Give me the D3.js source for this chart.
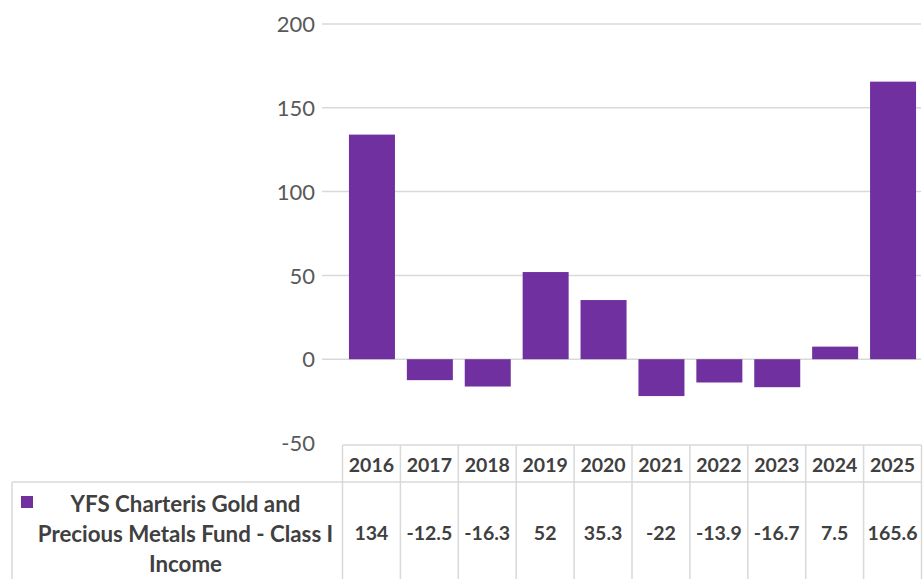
<!DOCTYPE html>
<html><head><meta charset="utf-8">
<script src="https://cdn.jsdelivr.net/npm/d3@7"></script>
<style>body{margin:0;background:#fff}svg{display:block}</style>
</head><body>
<script>
const years = ["2016","2017","2018","2019","2020","2021","2022","2023","2024","2025"];
const values = [134, -12.5, -16.3, 52, 35.3, -22, -13.9, -16.7, 7.5, 165.6];
const valueLabels = ["134","-12.5","-16.3","52","35.3","-22","-13.9","-16.7","7.5","165.6"];
const yTicks = [-50, 0, 50, 100, 150, 200];
const seriesName = ["YFS Charteris Gold and", "Precious Metals Fund - Class I", "Income"];

const W = 923, H = 579;
const svg = d3.select("body").append("svg").attr("width", W).attr("height", H);
const font = "Lato, 'Open Sans', sans-serif";
const gridColor = "#d9d9d9";

const x = d3.scaleBand().domain(years).range([342.5, 921.5]).paddingInner(0.2).paddingOuter(0.1);
const y = d3.scaleLinear().domain([-50, 200]).range([443, 24]);

// gridlines
svg.append("g").selectAll("line").data(yTicks.filter(d => d !== -50)).join("line")
  .attr("x1", 322).attr("x2", 921).attr("y1", d => y(d)).attr("y2", d => y(d))
  .attr("stroke", gridColor).attr("stroke-width", 1.5);

// y axis labels
const yAxis = d3.axisLeft(y).tickValues(yTicks).tickSize(0).tickPadding(0).tickFormat(d => String(d));
const ga = svg.append("g").attr("transform", "translate(315,0)").call(yAxis);
ga.select(".domain").remove();
ga.selectAll("text").attr("font-family", font).attr("font-size", 22).attr("fill", "#595959").attr("dy", "0.35em");

// bars
const step = x.step();
svg.append("g").selectAll("rect").data(values).join("rect")
  .attr("x", (d, i) => x(years[i]) + (x.bandwidth() - 46) / 2 + 0.5)
  .attr("width", 46)
  .attr("y", d => y(Math.max(0, d)))
  .attr("height", d => Math.abs(y(d) - y(0)))
  .attr("fill", "#7030a0");

// data table
const tableLeft = 12, tableX0 = 342.5, headTop = 445, rowTop = 482, bottom = 579;
const t = svg.append("g");
t.append("line").attr("x1", tableX0).attr("x2", 921.5).attr("y1", headTop).attr("y2", headTop).attr("stroke", gridColor).attr("stroke-width", 1.5);
t.append("line").attr("x1", tableLeft).attr("x2", 921.5).attr("y1", rowTop).attr("y2", rowTop).attr("stroke", gridColor).attr("stroke-width", 1.5);
const vx = years.map(yr => x(yr) - step * x.paddingInner() / 2).concat([921.5]);
t.selectAll(".v").data(vx).join("line").attr("class", "v")
  .attr("x1", d => d).attr("x2", d => d).attr("y1", headTop).attr("y2", bottom)
  .attr("stroke", gridColor).attr("stroke-width", 1.5);
t.append("line").attr("x1", tableLeft).attr("x2", tableLeft).attr("y1", rowTop).attr("y2", bottom).attr("stroke", gridColor).attr("stroke-width", 1.5);

t.selectAll(".yr").data(years).join("text").attr("class", "yr")
  .attr("x", d => x(d) + x.bandwidth() / 2).attr("y", 465).attr("dy", "0.35em")
  .attr("text-anchor", "middle").attr("font-family", font).attr("font-weight", "bold")
  .attr("font-size", 19.5).attr("fill", "#404040").text(d => d);
t.selectAll(".val").data(valueLabels).join("text").attr("class", "val")
  .attr("x", (d, i) => x(years[i]) + x.bandwidth() / 2).attr("y", 533).attr("dy", "0.35em")
  .attr("text-anchor", "middle").attr("font-family", font).attr("font-weight", "bold")
  .attr("font-size", 19.5).attr("fill", "#404040").text(d => d);
t.append("rect").attr("x", 21).attr("y", 496).attr("width", 12).attr("height", 12).attr("fill", "#7030a0");
t.selectAll(".nm").data(seriesName).join("text").attr("class", "nm")
  .attr("x", 185.5).attr("y", (d, i) => 504 + i * 30).attr("dy", "0.35em")
  .attr("text-anchor", "middle").attr("font-family", font).attr("font-weight", "bold")
  .attr("font-size", 22.3).attr("fill", "#404040").text(d => d);
</script>
</body></html>
